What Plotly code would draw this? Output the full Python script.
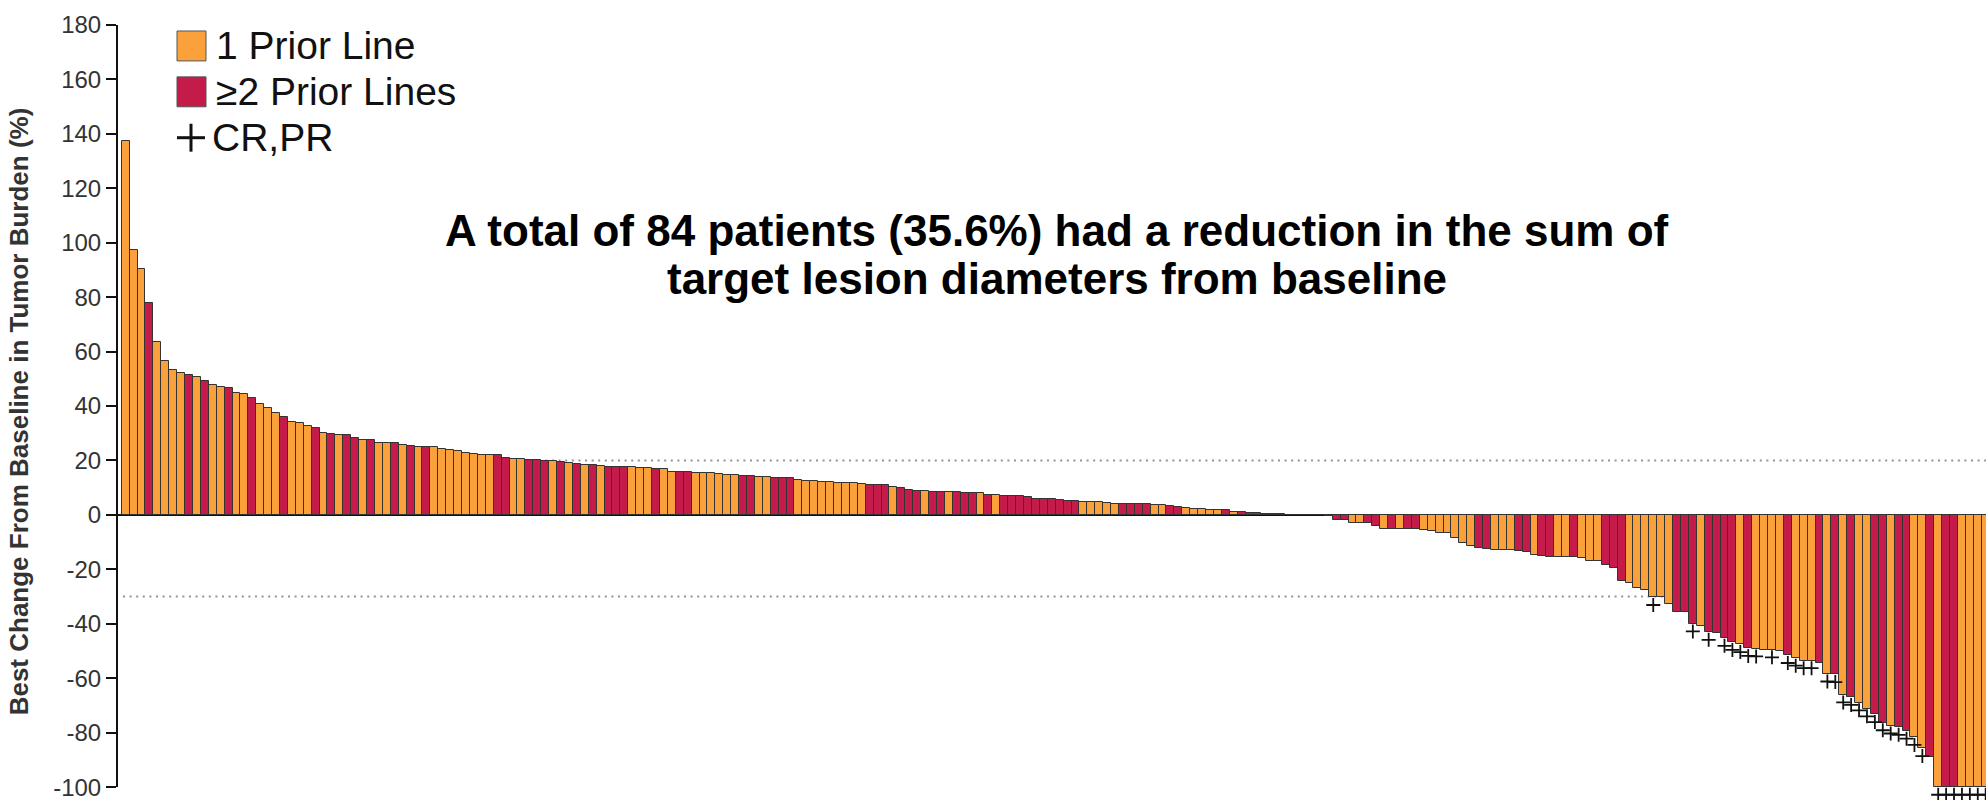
import plotly.graph_objects as go

# Best percentage change from baseline in target lesions, one value per patient (sorted)
best_change = [
    137.5, 97.5, 90.5, 77.7, 63.7, 56.4, 53.1, 52.0, 51.5, 50.5,
    49.2, 47.6, 47.1, 46.6, 44.8, 44.3, 43.1, 40.9, 39.3, 37.6,
    35.8, 34.3, 33.8, 32.7, 32.1, 30.2, 29.7, 29.5, 29.3, 28.1,
    27.6, 27.5, 26.6, 26.4, 26.3, 25.8, 25.2, 24.9, 24.8, 24.8,
    24.3, 23.7, 23.6, 22.8, 22.3, 22.2, 22.1, 22.1, 21.1, 20.6,
    20.6, 20.3, 20.0, 19.9, 19.7, 19.4, 19.0, 18.8, 18.3, 18.2,
    17.9, 17.7, 17.6, 17.6, 17.5, 17.2, 17.1, 17.0, 16.8, 15.9,
    15.9, 15.9, 15.5, 15.5, 15.5, 15.0, 14.7, 14.5, 14.4, 14.3,
    14.0, 13.8, 13.4, 13.4, 13.4, 12.9, 12.6, 12.5, 12.2, 12.0,
    11.8, 11.6, 11.6, 11.4, 11.0, 11.0, 11.0, 10.4, 10.0, 9.2,
    8.8, 8.7, 8.4, 8.4, 8.3, 8.3, 8.2, 8.1, 7.9, 7.4,
    7.2, 7.1, 7.0, 6.8, 6.7, 6.0, 5.9, 5.7, 5.5, 5.3,
    5.0, 4.6, 4.6, 4.6, 4.5, 4.2, 4.0, 3.9, 3.9, 3.9,
    3.8, 3.5, 3.2, 2.9, 2.6, 2.0, 2.0, 1.8, 1.7, 1.7,
    1.0, 0.9, 0.7, 0.7, 0.5, 0.3, 0.2, 0.0, 0.0, 0.0,
    0.0, 0.0, -0.3, -1.7, -1.7, -3.0, -3.0, -3.0, -4.2, -5.0,
    -5.0, -5.1, -5.1, -5.1, -5.5, -5.9, -6.7, -6.8, -8.4, -10.4,
    -11.4, -12.3, -12.6, -12.8, -12.8, -12.9, -13.3, -13.8, -14.7, -15.0,
    -15.4, -15.6, -15.6, -15.6, -15.9, -17.1, -17.1, -18.5, -19.5, -24.3,
    -24.9, -27.0, -27.7, -30.3, -30.3, -32.7, -35.5, -35.5, -40.0, -40.8,
    -43.1, -43.3, -45.3, -46.8, -47.6, -49.0, -49.2, -49.5, -49.5, -50.1,
    -51.6, -52.6, -53.5, -53.5, -54.5, -58.4, -58.6, -66.1, -67.0, -69.0,
    -71.2, -73.3, -76.3, -77.5, -78.0, -79.4, -81.7, -85.8, -89.0, -100.0,
    -100.0, -100.0, -100.0, -100.0, -100.0, -100.0,
]

# Number of prior lines of therapy: 1 = one prior line, 2 = two or more
prior_lines = [
    1, 1, 1, 2, 1, 1, 1, 1, 2, 1,
    2, 1, 1, 2, 1, 1, 2, 1, 1, 1,
    2, 1, 1, 1, 2, 1, 2, 1, 2, 2,
    1, 2, 1, 1, 2, 1, 2, 1, 2, 1,
    1, 1, 1, 1, 1, 1, 1, 2, 2, 1,
    1, 2, 2, 2, 1, 2, 1, 2, 1, 2,
    1, 2, 2, 2, 1, 1, 1, 2, 1, 1,
    2, 2, 1, 1, 1, 1, 1, 1, 2, 2,
    1, 1, 2, 2, 2, 1, 1, 1, 1, 1,
    1, 1, 1, 1, 2, 2, 2, 1, 2, 2,
    2, 1, 2, 2, 1, 2, 2, 2, 1, 2,
    1, 2, 2, 2, 2, 2, 2, 2, 2, 2,
    2, 1, 1, 1, 1, 1, 2, 2, 2, 2,
    1, 1, 2, 2, 1, 1, 1, 1, 1, 2,
    1, 2, 2, 2, 1, 2, 1, 1, 2, 1,
    1, 2, 1, 2, 2, 1, 1, 2, 2, 1,
    2, 1, 2, 2, 1, 1, 1, 1, 1, 1,
    1, 2, 2, 1, 1, 1, 2, 2, 1, 2,
    2, 1, 1, 2, 1, 1, 1, 2, 2, 2,
    1, 1, 1, 1, 1, 1, 2, 2, 2, 1,
    2, 2, 2, 2, 1, 2, 1, 1, 1, 1,
    2, 1, 1, 1, 2, 1, 2, 1, 2, 1,
    1, 2, 2, 1, 2, 2, 1, 1, 2, 1,
    2, 2, 1, 1, 1, 1,
]

# Patient ranks (1-based, in sorted order) with a confirmed CR or PR
responders = [194, 199, 201, 203, 204, 205, 206, 207, 209, 211, 212, 213, 214,
              216, 217, 218, 219, 220, 221, 222, 223, 224, 225, 226, 227, 228,
              230, 231, 232, 233, 234, 235, 236]

y_ticks = [-100, -80, -60, -40, -20, 0, 20, 40, 60, 80, 100, 120, 140, 160, 180]
reference_lines = [20, -30]

ORANGE = "#FBA13B"
CRIMSON = "#C41B4A"
OUTLINE = "#333333"
FONT = "Liberation Sans, Arial, Helvetica, sans-serif"

W, H = 1986, 800
M_L, M_R, M_T, M_B = 117, 0, 25, 0
PW, PH = W - M_L - M_R, H - M_T - M_B
Y_MIN, Y_MAX = -104, 180   # a little room below -100 for the CR/PR crosses


def px(x):
    return (x - M_L) / PW


def py(y):
    return (H - M_B - y) / PH


idx = list(range(len(best_change)))

fig = go.Figure()
for grp, color, name in [(1, ORANGE, "1 Prior Line"), (2, CRIMSON, "≥2 Prior Lines")]:
    xs = [i for i in idx if prior_lines[i] == grp]
    fig.add_trace(go.Bar(
        x=xs, y=[best_change[i] for i in xs], width=1, name=name,
        marker=dict(color=color, line=dict(color=OUTLINE, width=1)),
        showlegend=False,
    ))

# CR/PR crosses just beyond the tip of each responder's bar
rx = [r - 1 for r in responders]
fig.add_trace(go.Scatter(
    x=rx, y=[best_change[i] - 2.8 for i in rx], mode="markers", name="CR,PR",
    marker=dict(symbol="cross-thin", size=10, line=dict(color="#111", width=1.8)),
    cliponaxis=False, showlegend=False,
))

shapes = []
for v in reference_lines:
    shapes.append(dict(type="line", xref="paper", yref="y", x0=px(123), x1=1, y0=v, y1=v,
                       layer="below", line=dict(color="#949494", width=2, dash="2px,4.6px")))

# y-axis spine from -100 to 180
shapes.append(dict(type="line", xref="paper", yref="y", x0=0, x1=0, y0=-100, y1=180,
                   line=dict(color="#111", width=2)))

# Hand-drawn legend at the upper left
for (top, color) in [(31, ORANGE), (77, CRIMSON)]:
    shapes.append(dict(type="rect", xref="paper", yref="paper",
                       x0=px(177), x1=px(206), y0=py(top + 30), y1=py(top),
                       fillcolor=color, line=dict(color="#555", width=1)))
shapes.append(dict(type="line", xref="paper", yref="paper", x0=px(177), x1=px(205),
                   y0=py(138), y1=py(138), line=dict(color="#111", width=3)))
shapes.append(dict(type="line", xref="paper", yref="paper", x0=px(191), x1=px(191),
                   y0=py(124), y1=py(152), line=dict(color="#111", width=3)))

annotations = []
for text, x, y in [("1 Prior Line", 214, 46), ("≥2 Prior Lines", 214, 92), ("CR,PR", 210, 138)]:
    annotations.append(dict(text=text, xref="paper", yref="paper", x=px(x), y=py(y),
                            xanchor="left", yanchor="middle", showarrow=False,
                            font=dict(family=FONT, size=39, color="#111")))

for text, y in [("A total of 84 patients (35.6%) had a reduction in the sum of", 231),
                ("target lesion diameters from baseline", 279)]:
    annotations.append(dict(text="<b>" + text + "</b>", xref="paper", yref="paper",
                            x=px(1057), y=py(y), xanchor="center", yanchor="middle",
                            showarrow=False, font=dict(family=FONT, size=44, color="#000")))

fig.update_layout(
    width=W, height=H,
    margin=dict(l=M_L, r=M_R, t=M_T, b=M_B, pad=0),
    paper_bgcolor="white", plot_bgcolor="white",
    barmode="overlay", bargap=0,
    shapes=shapes, annotations=annotations,
    font=dict(family=FONT),
    xaxis=dict(visible=False, range=[-1.094, 235.04]),
    yaxis=dict(
        range=[Y_MIN, Y_MAX], tickvals=y_ticks, ticktext=[str(t) for t in y_ticks],
        showgrid=False, zeroline=True, zerolinecolor="#111", zerolinewidth=2,
        showline=False, ticklabeloverflow="allow",
        ticks="outside", ticklen=10, tickwidth=2, tickcolor="#111",
        tickfont=dict(family=FONT, size=24, color="#333"),
        title=dict(text="<b>Best Change From Baseline in Tumor Burden (%)</b>",
                   font=dict(family=FONT, size=26, color="#333"), standoff=17),
    ),
)

fig.write_html("out.html")
